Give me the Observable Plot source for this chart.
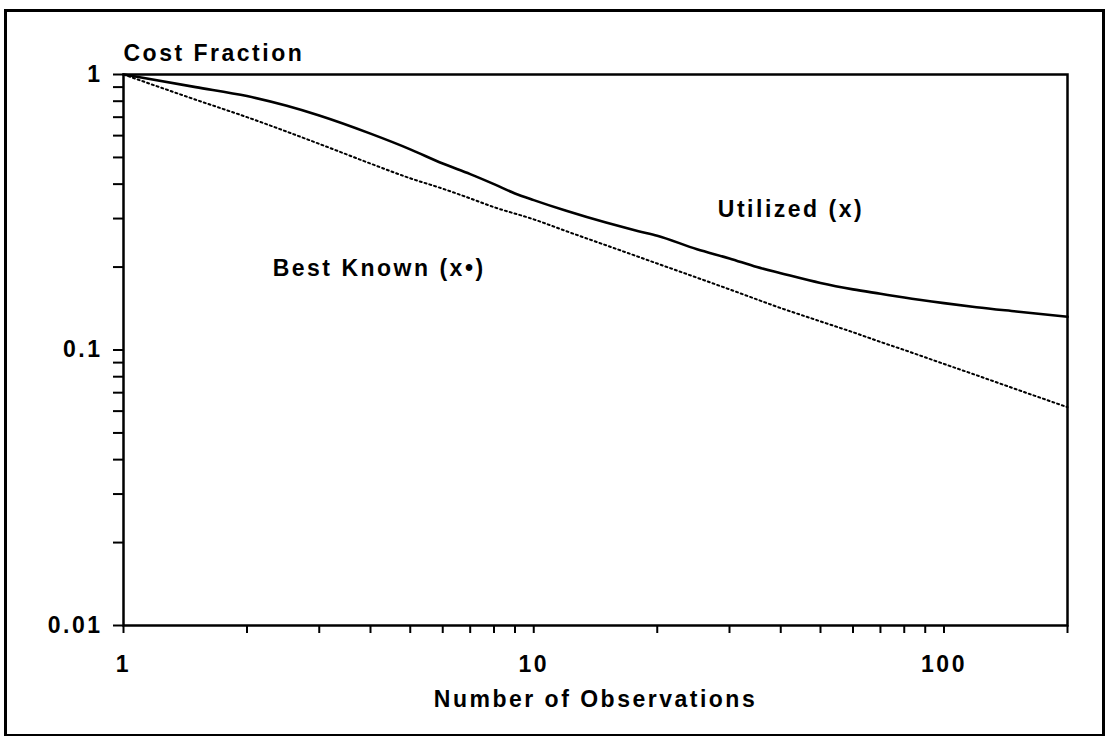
<!DOCTYPE html>
<html>
<head>
<meta charset="utf-8">
<script src="https://cdn.jsdelivr.net/npm/d3@7"></script>
<script src="https://cdn.jsdelivr.net/npm/@observablehq/plot@0.6"></script>
<style>
  html, body { margin: 0; padding: 0; background: #fff; }
  #wrap { position: relative; width: 1106px; height: 736px; }
  #border { position: absolute; left: 4px; top: 9px; width: 1095px; height: 722px; border: 3px solid #000; pointer-events: none; }
</style>
</head>
<body>
<div id="wrap"><div id="border"></div></div>
<script>
// Number of observations (x) and cost fractions
const utilizedN = [1, 1.5, 2, 2.5, 3, 4, 5, 6, 7, 8, 9, 10, 12, 15, 18, 20, 25, 30, 35, 40, 50, 60, 70, 80, 100, 120, 150, 200];
const utilizedV = [1.0, 0.9, 0.835, 0.77, 0.71, 0.61, 0.535, 0.475, 0.435, 0.40, 0.37, 0.35, 0.32, 0.29, 0.27, 0.26, 0.232, 0.215, 0.2, 0.19, 0.175, 0.166, 0.16, 0.155, 0.148, 0.143, 0.138, 0.132];

const bestN = [1, 1.5, 2, 3, 4, 5, 6, 7, 8, 10, 12, 15, 20, 25, 30, 40, 50, 60, 70, 80, 100, 120, 150, 200];
const bestV = [1, 0.81, 0.70, 0.56, 0.475, 0.42, 0.385, 0.355, 0.33, 0.298, 0.27, 0.24, 0.206, 0.183, 0.166, 0.142, 0.127, 0.116, 0.107, 0.100, 0.089, 0.081, 0.072, 0.062];

// Axis ticks
const xTicks = [1, 2, 3, 4, 5, 6, 7, 8, 9, 10, 20, 30, 40, 50, 60, 70, 80, 90, 100, 200];
const xTickLabels = [1, 10, 100];
const yTicks = [1, 0.9, 0.8, 0.7, 0.6, 0.5, 0.4, 0.3, 0.2, 0.1, 0.09, 0.08, 0.07, 0.06, 0.05, 0.04, 0.03, 0.02, 0.01];
const yTickLabels = [1, 0.1, 0.01];

// Text
const titleText = "Cost Fraction";
const xLabelText = "Number of Observations";
const annoText = ["Utilized (x)", "Best Known (x\u2022)"];
const annoN = [28.1, 2.31];
const annoV = [0.3236, 0.1977];

const utilized = utilizedN.map((n, i) => ({n, v: utilizedV[i]}));
const best = bestN.map((n, i) => ({n, v: bestV[i]}));
const annos = annoText.map((t, i) => ({t, n: annoN[i], v: annoV[i]}));

const chart = Plot.plot({
  width: 1106,
  height: 736,
  marginLeft: 123,
  marginRight: 39,
  marginTop: 74,
  marginBottom: 111,
  x: {type: "log", domain: [1, 200]},
  y: {type: "log", domain: [0.01, 1]},
  style: {
    fontFamily: "'Liberation Sans', Arial, sans-serif",
    fontWeight: "bold",
    fontSize: "23px",
    letterSpacing: "2.5px",
    color: "#000",
    background: "transparent",
    overflow: "visible"
  },
  marks: [
    Plot.frame({stroke: "#000", strokeWidth: 2.5}),
    Plot.axisX({
      ticks: xTicks,
      tickFormat: d => xTickLabels.includes(d) ? String(d) : "",
      tickSize: 8,
      tickPadding: 22,
      strokeWidth: 2,
      label: null,
      fill: "#000"
    }),
    Plot.axisY({
      ticks: yTicks,
      tickFormat: d => yTickLabels.includes(d) ? String(d) : "",
      tickSize: 10,
      tickPadding: 11,
      strokeWidth: 2,
      label: null,
      fill: "#000"
    }),
    Plot.line(best, {x: "n", y: "v", stroke: "#000", strokeWidth: 2, strokeDasharray: "2,3", curve: "monotone-x"}),
    Plot.line(utilized, {x: "n", y: "v", stroke: "#000", strokeWidth: 2.6, curve: "monotone-x"}),
    Plot.text(annos, {x: "n", y: "v", text: "t", textAnchor: "start", fill: "#000"}),
    Plot.text([titleText], {frameAnchor: "top-left", text: d => d, textAnchor: "start", lineAnchor: "bottom", dy: -14, fill: "#000"}),
    Plot.text([xLabelText], {frameAnchor: "bottom", text: d => d, lineAnchor: "bottom", dy: 81, fill: "#000"})
  ]
});
document.getElementById("wrap").prepend(chart);
</script>
</body>
</html>
